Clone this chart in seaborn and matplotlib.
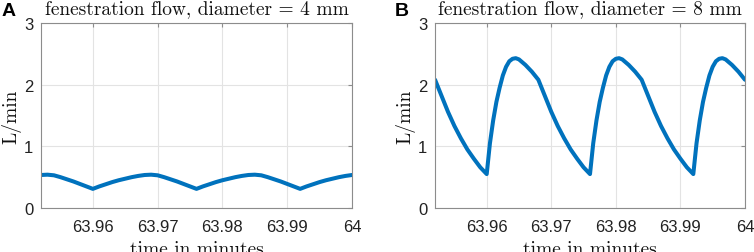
import matplotlib
matplotlib.use("Agg")
import matplotlib.pyplot as plt
import seaborn as sns

# flow through the fenestration, L/min, last 0.048 min of the run
time_a = [63.952, 63.953, 63.954, 63.955, 63.956, 63.957, 63.958, 63.959, 63.960,
          63.961, 63.962, 63.963, 63.964, 63.965, 63.966, 63.967, 63.968,
          63.969, 63.970, 63.971, 63.972, 63.973, 63.974, 63.975, 63.976,
          63.977, 63.978, 63.979, 63.980, 63.981, 63.982, 63.983, 63.984,
          63.985, 63.986, 63.987, 63.988, 63.989, 63.990, 63.991, 63.992,
          63.993, 63.994, 63.995, 63.996, 63.997, 63.998, 63.999, 64.000]
flow_a = [0.535, 0.54, 0.53, 0.50, 0.465, 0.43, 0.39, 0.35, 0.31,
          0.35, 0.385, 0.42, 0.45, 0.475, 0.50, 0.52, 0.535,
          0.54, 0.53, 0.50, 0.465, 0.43, 0.39, 0.35, 0.31,
          0.35, 0.385, 0.42, 0.45, 0.475, 0.50, 0.52, 0.535,
          0.54, 0.53, 0.50, 0.465, 0.43, 0.39, 0.35, 0.31,
          0.35, 0.385, 0.42, 0.45, 0.475, 0.50, 0.52, 0.535]

time_b = [63.952, 63.953, 63.954, 63.955, 63.956, 63.957, 63.958, 63.959, 63.960,
          63.9605, 63.961, 63.9615, 63.962, 63.9625, 63.963, 63.9635, 63.964, 63.9645,
          63.965, 63.966, 63.967, 63.968,
          63.969, 63.970, 63.971, 63.972, 63.973, 63.974, 63.975, 63.976,
          63.9765, 63.977, 63.9775, 63.978, 63.9785, 63.979, 63.9795, 63.980, 63.9805,
          63.981, 63.982, 63.983, 63.984,
          63.985, 63.986, 63.987, 63.988, 63.989, 63.990, 63.991, 63.992,
          63.9925, 63.993, 63.9935, 63.994, 63.9945, 63.995, 63.9955, 63.996, 63.9965,
          63.997, 63.998, 63.999, 64.000]
flow_b = [2.08, 1.82, 1.56, 1.33, 1.13, 0.95, 0.80, 0.66, 0.55,
          1.05, 1.42, 1.72, 1.95, 2.15, 2.29, 2.38, 2.42, 2.43,
          2.41, 2.32, 2.21, 2.08,
          1.82, 1.56, 1.33, 1.13, 0.95, 0.80, 0.66, 0.55,
          1.05, 1.42, 1.72, 1.95, 2.15, 2.29, 2.38, 2.42, 2.43,
          2.41, 2.32, 2.21, 2.08,
          1.82, 1.56, 1.33, 1.13, 0.95, 0.80, 0.66, 0.55,
          1.05, 1.42, 1.72, 1.95, 2.15, 2.29, 2.38, 2.42, 2.43,
          2.41, 2.32, 2.21, 2.08]

titles = ['fenestration flow, diameter = 4 mm', 'fenestration flow, diameter = 8 mm']
letters = ['A', 'B']
xticks = [63.96, 63.97, 63.98, 63.99, 64.0]
xticklabels = ['63.96', '63.97', '63.98', '63.99', '64']
yticks = [0, 1, 2, 3]

sns.set_style('white')
plt.rcParams['font.family'] = ['Liberation Sans', 'DejaVu Sans']

fig = plt.figure(figsize=(7.54, 2.53), dpi=100)
ax_a = fig.add_axes([0.0544, 0.174, 0.4124, 0.731])
ax_b = fig.add_axes([0.577, 0.174, 0.411, 0.731])

for ax, t, q, title in zip([ax_a, ax_b], [time_a, time_b], [flow_a, flow_b], titles):
    sns.lineplot(x=t, y=q, ax=ax, color='#0072BD', linewidth=2.9)
    ax.set_xlim(63.952, 64.0)
    ax.set_ylim(0, 3)
    ax.set_xticks(xticks)
    ax.set_xticklabels(xticklabels)
    ax.set_yticks(yticks)
    ax.grid(True, color='#e3e3e3', linewidth=0.8)
    ax.set_axisbelow(True)
    for sp in ax.spines.values():
        sp.set_visible(True)
        sp.set_color('#8c8c8c')
        sp.set_linewidth(0.8)
    ax.tick_params(direction='in', length=3, width=0.8, color='#8c8c8c',
                   top=True, right=True, labelsize=12, labelcolor='#222222')
    ax.tick_params(axis='x', pad=8)
    ax.tick_params(axis='y', pad=5.5)
    ax.set_title(title, family='cmr10', fontsize=14, pad=7, color='#111111')
    ax.set_xlabel('time in minutes', family='cmr10', fontsize=14, labelpad=4, color='#111111')
    ax.set_ylabel('L/min', family='cmr10', fontsize=14, labelpad=2, color='#111111')

fig.text(0.002, 0.935, letters[0], fontsize=14, fontweight='bold', color='black')
fig.text(0.524, 0.935, letters[1], fontsize=14, fontweight='bold', color='black')

fig.savefig('out.png', dpi=100)
